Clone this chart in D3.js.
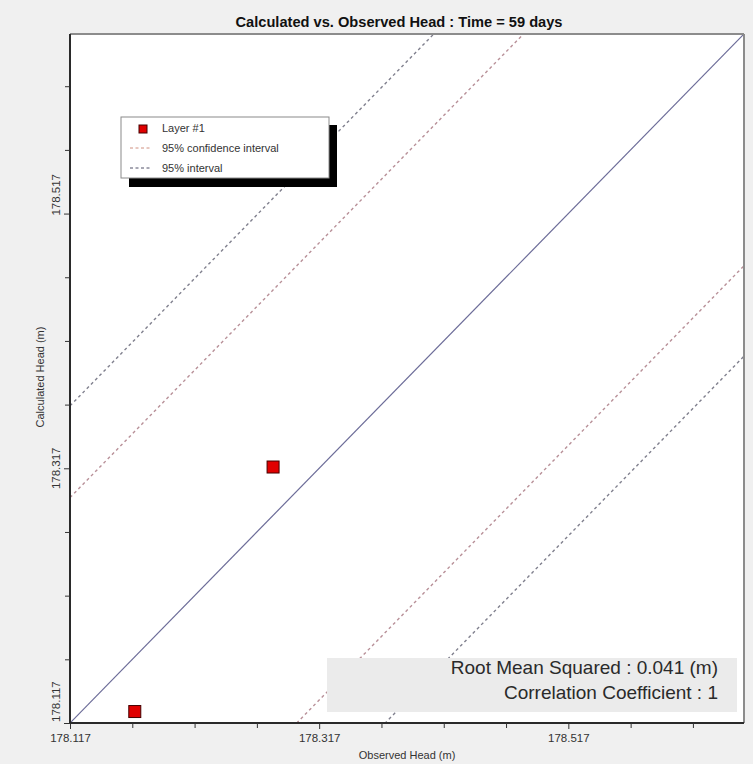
<!DOCTYPE html>
<html>
<head>
<meta charset="utf-8">
<script src="https://cdn.jsdelivr.net/npm/d3@7"></script>
<style>
  body { margin: 0; background: #f0f0f0; }
  svg { display: block; font-family: "Liberation Sans", Arial, sans-serif; }
</style>
</head>
<body>
<svg id="chart"></svg>
<script>
// observed vs calculated heads (m)
var observed = [178.169, 178.280];
var calculated = [178.126, 178.318];
var headMin = 178.117;
var headMax = 178.658;
var majorTicks = [178.117, 178.317, 178.517];
var minorTicks = [178.167, 178.217, 178.267, 178.367, 178.417, 178.467, 178.567, 178.617];
// offsets of interval lines from the 1:1 line
var confOffsets = [0.177, -0.182];
var intervalOffsets = [0.249, -0.253];
var stats = ["Root Mean Squared : 0.041 (m)", "Correlation Coefficient : 1"];
var legendItems = ["Layer #1", "95% confidence interval", "95% interval"];

var dimensions = {
    width: 753,
    height: 764,
    margin: { top: 34, bottom: 41, left: 70, right: 9 }
}

var svg = d3.select("#chart")
    .attr("width", dimensions.width)
    .attr("height", dimensions.height)

var x0 = dimensions.margin.left
var x1 = dimensions.width - dimensions.margin.right
var y0 = dimensions.height - dimensions.margin.bottom
var y1 = dimensions.margin.top

var xScale = d3.scaleLinear().domain([headMin, headMax]).range([x0, x1])
var yScale = d3.scaleLinear().domain([headMin, headMax]).range([y0, y1])

// title
svg.append("text")
    .attr("x", 399)
    .attr("y", 27)
    .attr("text-anchor", "middle")
    .attr("textLength", 327)
    .attr("lengthAdjust", "spacingAndGlyphs")
    .style("font-family", "'Liberation Sans Narrow', 'Liberation Sans', Arial, sans-serif")
    .style("font-weight", "bold")
    .style("font-size", "15px")
    .attr("fill", "#111")
    .text("Calculated vs. Observed Head : Time = 59 days")

// plot area
svg.append("rect")
    .attr("x", x0).attr("y", y1)
    .attr("width", x1 - x0).attr("height", y0 - y1)
    .attr("fill", "#fff")

svg.append("clipPath").attr("id", "clip")
    .append("rect")
    .attr("x", x0).attr("y", y1)
    .attr("width", x1 - x0).attr("height", y0 - y1)

var plot = svg.append("g").attr("clip-path", "url(#clip)")

var line = d3.line()
    .x(d => xScale(d[0]))
    .y(d => yScale(d[1]))

function diag(off) {
    return [[headMin, headMin + off], [headMax, headMax + off]]
}

// interval lines
intervalOffsets.forEach(function(off) {
    plot.append("path")
        .attr("d", line(diag(off)))
        .attr("fill", "none")
        .attr("stroke", "#80808e")
        .attr("stroke-width", 1.4)
        .attr("stroke-dasharray", "3,3")
})

confOffsets.forEach(function(off) {
    plot.append("path")
        .attr("d", line(diag(off)))
        .attr("fill", "none")
        .attr("stroke", "#b89098")
        .attr("stroke-width", 1.4)
        .attr("stroke-dasharray", "3,3")
})

// 1:1 line
plot.append("path")
    .attr("d", line(diag(0)))
    .attr("fill", "none")
    .attr("stroke", "#6c6c98")
    .attr("stroke-width", 1.2)

// stats box
svg.append("rect")
    .attr("x", 327).attr("y", 658)
    .attr("width", 410).attr("height", 54)
    .attr("fill", "#ebebeb")

svg.selectAll(".stat")
    .data(stats)
    .enter()
    .append("text")
    .attr("class", "stat")
    .attr("x", 718)
    .attr("y", (d, i) => 674 + i * 25)
    .attr("text-anchor", "end")
    .style("font-size", "19px")
    .attr("fill", "#2a2a2a")
    .text(d => d)

// points
plot.selectAll(".pt")
    .data(observed)
    .enter()
    .append("rect")
    .attr("class", "pt")
    .attr("x", (d, i) => xScale(d) - 6)
    .attr("y", (d, i) => yScale(calculated[i]) - 6)
    .attr("width", 12)
    .attr("height", 12)
    .attr("fill", "#e00000")
    .attr("stroke", "#400")
    .attr("stroke-width", 1)

// frame: top and right grey, left and bottom dark
svg.append("line").attr("x1", x0).attr("x2", x1).attr("y1", y1).attr("y2", y1)
    .attr("stroke", "#8c8c8c").attr("stroke-width", 2)
svg.append("line").attr("x1", x1).attr("x2", x1).attr("y1", y1).attr("y2", y0)
    .attr("stroke", "#8c8c8c").attr("stroke-width", 2)

// axes
var xAxis = svg.append("g")
    .attr("transform", `translate(0,${y0})`)
    .call(d3.axisBottom(xScale).tickValues(majorTicks).tickSize(6).tickFormat(d3.format(".3f")))
xAxis.append("g").call(d3.axisBottom(xScale).tickValues(minorTicks).tickSize(5).tickFormat(""))

var yAxis = svg.append("g")
    .attr("transform", `translate(${x0},0)`)
    .call(d3.axisLeft(yScale).tickValues(majorTicks).tickSize(6).tickFormat(""))
yAxis.append("g").call(d3.axisLeft(yScale).tickValues(minorTicks).tickSize(5).tickFormat(""))

svg.selectAll(".domain").attr("stroke", "#2a2a2a").attr("stroke-width", 2)
svg.selectAll(".tick line").attr("stroke", "#333")
xAxis.selectAll(".domain")
    .attr("d", `M${x0},0H${x1}`)
yAxis.selectAll(".domain")
    .attr("d", `M0,${y0}V${y1}`)

xAxis.selectAll("text")
    .style("font-size", "11.5px")
    .attr("fill", "#333")
    .attr("dy", "0.9em")

// rotated y tick labels (lowest one sits above the corner)
svg.selectAll(".ylab")
    .data(majorTicks)
    .enter()
    .append("text")
    .attr("class", "ylab")
    .attr("transform", (d, i) => `translate(60,${i == 0 ? y0 - 1 : yScale(d) + (i == 2 ? 2 : 0)})rotate(-90)`)
    .attr("text-anchor", (d, i) => i == 1 ? "middle" : "start")
    .style("font-size", "11.5px")
    .attr("fill", "#333")
    .text(d => d3.format(".3f")(d))

svg.append("text")
    .attr("x", 407)
    .attr("y", 759)
    .attr("text-anchor", "middle")
    .style("font-size", "11px")
    .attr("fill", "#333")
    .text("Observed Head (m)")

svg.append("text")
    .attr("transform", "translate(44,377)rotate(-90)")
    .attr("text-anchor", "middle")
    .style("font-size", "11px")
    .attr("fill", "#333")
    .text("Calculated Head (m)")

// legend
var legend = svg.append("g")
legend.append("rect")
    .attr("x", 129).attr("y", 125)
    .attr("width", 208).attr("height", 62)
    .attr("fill", "#000")
legend.append("rect")
    .attr("x", 121).attr("y", 117)
    .attr("width", 208).attr("height", 61)
    .attr("fill", "#fff")
    .attr("stroke", "#8a8a8a")
    .attr("stroke-width", 1)

legend.append("rect")
    .attr("x", 139).attr("y", 125)
    .attr("width", 8).attr("height", 8)
    .attr("fill", "#e00000")
    .attr("stroke", "#400")

legend.append("line")
    .attr("x1", 130).attr("x2", 151).attr("y1", 148).attr("y2", 148)
    .attr("stroke", "#d09080").attr("stroke-dasharray", "3,2.5")
legend.append("line")
    .attr("x1", 130).attr("x2", 151).attr("y1", 168).attr("y2", 168)
    .attr("stroke", "#505068").attr("stroke-dasharray", "3,2.5")

legend.selectAll(".legtext")
    .data(legendItems)
    .enter()
    .append("text")
    .attr("class", "legtext")
    .attr("x", 162)
    .attr("y", (d, i) => 132 + i * 20)
    .style("font-size", "11px")
    .attr("fill", "#333")
    .text(d => d)
</script>
</body>
</html>
